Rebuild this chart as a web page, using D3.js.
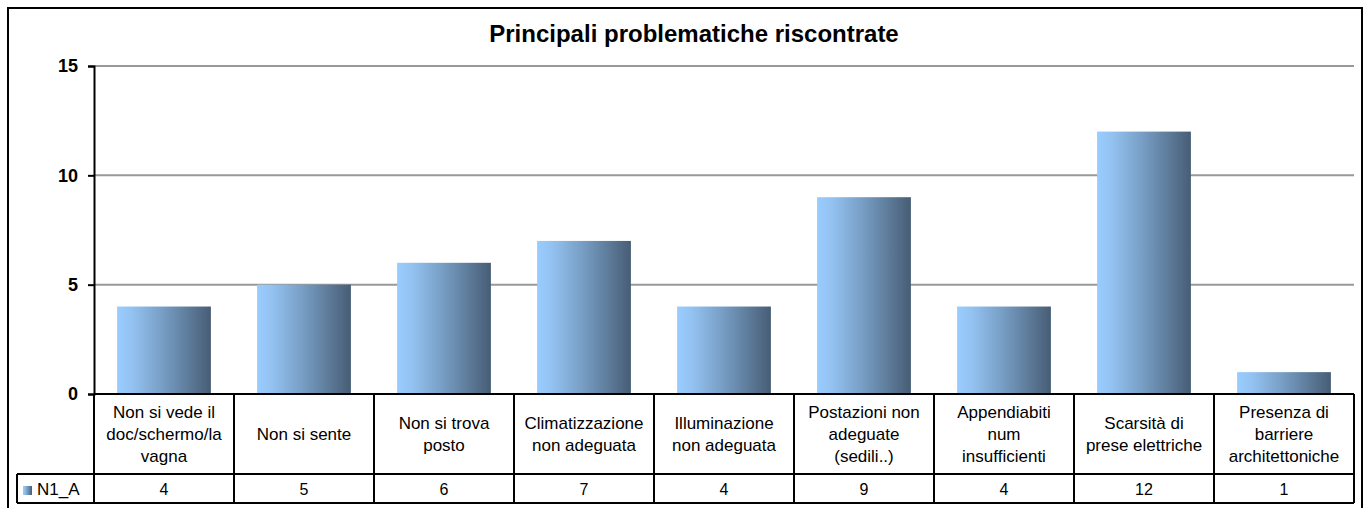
<!DOCTYPE html>
<html>
<head>
<meta charset="utf-8">
<script src="https://d3js.org/d3.v7.min.js"></script>
<style>
  body { margin: 0; background: #fff; }
  text { font-family: "Liberation Sans", Arial, sans-serif; }
</style>
</head>
<body>
<div id="chart"></div>
<script>
// chart data
const title = "Principali problematiche riscontrate";
const seriesName = "N1_A";
const categories = [
    ["Non si vede il", "doc/schermo/la", "vagna"],
    ["Non si sente"],
    ["Non si trova", "posto"],
    ["Climatizzazione", "non adeguata"],
    ["Illuminazione", "non adeguata"],
    ["Postazioni non", "adeguate", "(sedili..)"],
    ["Appendiabiti", "num", "insufficienti"],
    ["Scarsità di", "prese elettriche"],
    ["Presenza di", "barriere", "architettoniche"]
];
const values = [4, 5, 6, 7, 4, 9, 4, 12, 1];
const yTicks = [0, 5, 10, 15];

const width = 1368;
const height = 508;
const plot = { left: 94, right: 1354, top: 66, bottom: 394 };
const tableRow1 = 474, tableRow2 = 503, legendLeft = 17;

const svg = d3.select("#chart").append("svg")
    .attr("width", width).attr("height", height);

// bar gradient
const defs = svg.append("defs");
const grad = defs.append("linearGradient").attr("id", "barGrad")
    .attr("x1", "0%").attr("x2", "100%").attr("y1", "0%").attr("y2", "0%");
grad.append("stop").attr("offset", "0%").attr("stop-color", "#99ccff");
grad.append("stop").attr("offset", "15%").attr("stop-color", "#94c3f2");
grad.append("stop").attr("offset", "50%").attr("stop-color", "#769cc2");
grad.append("stop").attr("offset", "100%").attr("stop-color", "#475d75");

// outer frame
svg.append("rect")
    .attr("x", 8).attr("y", 8).attr("width", 1354).attr("height", 510)
    .attr("fill", "none").attr("stroke", "#000").attr("stroke-width", 2);

// title
svg.append("text")
    .attr("x", 694).attr("y", 42)
    .attr("text-anchor", "middle")
    .attr("font-size", 24).attr("font-weight", "bold")
    .text(title);

const x = d3.scaleBand()
    .domain(d3.range(categories.length))
    .range([plot.left, plot.right])
    .paddingInner(0.33).paddingOuter(0.165);

const xCol = d3.scaleBand()
    .domain(d3.range(categories.length))
    .range([plot.left, plot.right]);

const y = d3.scaleLinear().domain([0, 15]).range([plot.bottom, plot.top]);

// gridlines
svg.append("g").selectAll("line")
    .data(yTicks.filter(d => d > 0))
    .join("line")
    .attr("x1", plot.left).attr("x2", plot.right)
    .attr("y1", d => y(d)).attr("y2", d => y(d))
    .attr("stroke", "#999").attr("stroke-width", 2);

// bars
svg.append("g").selectAll("rect")
    .data(values)
    .join("rect")
    .attr("x", (d, i) => x(i))
    .attr("width", x.bandwidth())
    .attr("y", d => y(d))
    .attr("height", d => y(0) - y(d))
    .attr("fill", "url(#barGrad)");

// y axis
const yAxis = svg.append("g")
    .attr("transform", `translate(${plot.left},0)`)
    .call(d3.axisLeft(y).tickValues(yTicks).tickSize(6).tickPadding(10));
yAxis.select(".domain").attr("stroke", "#000").attr("stroke-width", 2);
yAxis.selectAll(".tick line").attr("stroke", "#000").attr("stroke-width", 2);
yAxis.selectAll(".tick text")
    .attr("font-size", 18).attr("font-weight", "bold")
    .attr("font-family", "'Liberation Sans', Arial, sans-serif")
    .attr("fill", "#000");

// data table
const table = svg.append("g");
const lineStyle = sel => sel.attr("stroke", "#000").attr("stroke-width", 2);

// horizontal lines
table.append("line").attr("x1", plot.left).attr("x2", plot.right)
    .attr("y1", plot.bottom).attr("y2", plot.bottom).call(lineStyle);
table.append("line").attr("x1", legendLeft).attr("x2", plot.right)
    .attr("y1", tableRow1).attr("y2", tableRow1).call(lineStyle);
table.append("line").attr("x1", legendLeft).attr("x2", plot.right)
    .attr("y1", tableRow2).attr("y2", tableRow2).call(lineStyle);
// verticals
table.append("line").attr("x1", legendLeft).attr("x2", legendLeft)
    .attr("y1", tableRow1).attr("y2", tableRow2).call(lineStyle);
table.selectAll(".col")
    .data(d3.range(categories.length + 1))
    .join("line")
    .attr("x1", i => plot.left + i * xCol.step())
    .attr("x2", i => plot.left + i * xCol.step())
    .attr("y1", plot.bottom).attr("y2", tableRow2)
    .call(lineStyle);

// category labels
const lh = 22;
categories.forEach((lines, i) => {
    const cx = xCol(i) + xCol.bandwidth() / 2;
    const cy = (plot.bottom + tableRow1) / 2;
    const t = table.append("text")
        .attr("text-anchor", "middle")
        .attr("font-size", 17);
    lines.forEach((ln, j) => {
        t.append("tspan")
            .attr("x", cx)
            .attr("y", cy + (j - (lines.length - 1) / 2) * lh + 6)
            .text(ln);
    });
});

// values row
table.selectAll(".val")
    .data(values)
    .join("text")
    .attr("x", (d, i) => xCol(i) + xCol.bandwidth() / 2)
    .attr("y", (tableRow1 + tableRow2) / 2 + 6)
    .attr("text-anchor", "middle")
    .attr("font-size", 16)
    .text(d => d);

// legend key
table.append("rect")
    .attr("x", 23).attr("y", 486).attr("width", 9).attr("height", 9)
    .attr("fill", "url(#barGrad)");
table.append("text")
    .attr("x", 37).attr("y", (tableRow1 + tableRow2) / 2 + 6)
    .attr("font-size", 17)
    .text(seriesName);
</script>
</body>
</html>
